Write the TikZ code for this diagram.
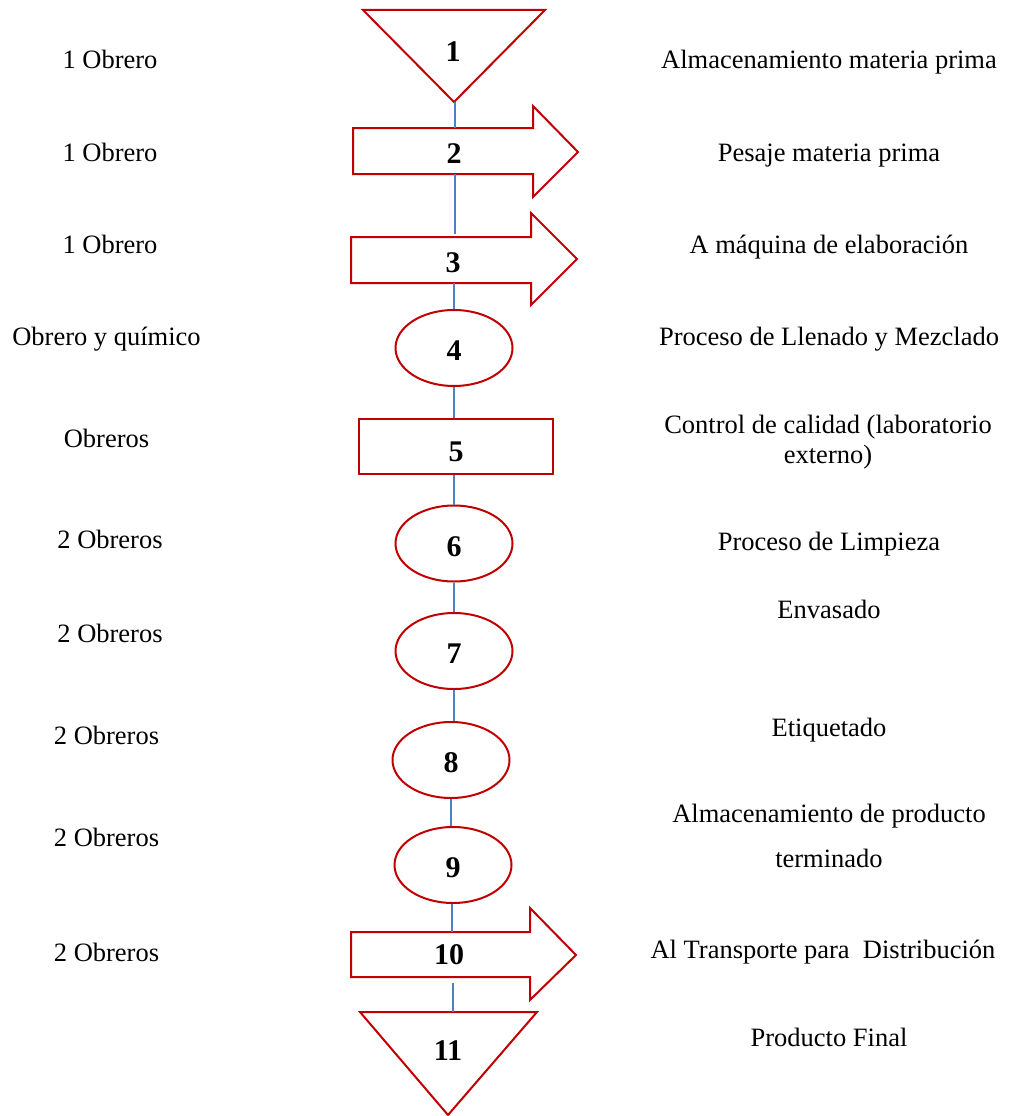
\documentclass[tikz,border=0pt]{standalone}
\usepackage{fontspec}
\setmainfont{Liberation Serif}
\usetikzlibrary{shapes.geometric}
\definecolor{flowred}{HTML}{C00000}
\definecolor{linkblue}{HTML}{4F81BD}
\begin{document}
\begin{tikzpicture}[x=1pt,y=-1pt,
  shapeline/.style={draw=flowred, line width=2pt, line join=miter},
  link/.style={draw=linkblue, line width=1.8pt},
  num/.style={font=\fontsize{30}{34}\selectfont\bfseries, inner sep=0pt},
  lbl/.style={font=\fontsize{26.5}{30}\selectfont, anchor=base, inner sep=0pt, align=center},
  oval/.style={shapeline, num, ellipse, minimum width=117pt, minimum height=76pt,
               text height=25pt, text depth=0pt},
  box/.style={shapeline, num, rectangle, minimum width=194pt, minimum height=55pt,
              text height=29pt, text depth=0pt}
]
\useasboundingbox (0,0) rectangle (1011,1116);

% 1: storage triangle
\draw[shapeline] (363,10) -- (545,10) -- (454,102) -- cycle;
\node[num, anchor=base] (s1) at (453,62) {1};
\coordinate (s1-out) at (455,102);

% 2: transport arrow
\draw[shapeline] (353,128) -- (533,128) -- (533,106) -- (578,152) -- (533,197)
  -- (533,174) -- (353,174) -- cycle;
\node[num, anchor=base] (s2) at (454,163) {2};
\coordinate (s2-in) at (455,128);
\coordinate (s2-out) at (455,174);

% 3: transport arrow
\draw[shapeline] (351,237) -- (531,237) -- (531,213) -- (577,259) -- (531,305)
  -- (531,283) -- (351,283) -- cycle;
\node[num, anchor=base] (s3) at (453,272) {3};
\coordinate (s3-in) at (455,234);
\coordinate (s3-out) at (454,283);

% 4..9: operations and inspection
\node[oval] (s4) at (454,348) {4};
\node[box] (s5) at (456,446.5) {5};
\node[oval] (s6) at (454,543.5) {6};
\node[oval] (s7) at (454,651) {7};
\node[oval] (s8) at (451,760) {8};
\node[oval] (s9) at (453,865) {9};

% 10: transport arrow
\draw[shapeline] (351,932) -- (530,932) -- (530,908) -- (576,955) -- (530,1000)
  -- (530,977) -- (351,977) -- cycle;
\node[num, anchor=base] (s10) at (449,964) {10};
\coordinate (s10-in) at (452,932);
\coordinate (s10-out) at (453,983);

% 11: final storage triangle
\draw[shapeline] (360,1012) -- (537,1012) -- (448,1115) -- cycle;
\node[num, anchor=base] (s11) at (448,1060) {11};
\coordinate (s11-in) at (453,1012);

% connectors
\draw[link] (s1-out) -- (s2-in);
\draw[link] (s2-out) -- (s3-in);
\draw[link] (s3-out) -- (s3-out |- s4.north);
\draw[link] (s4.south) -- (s4.south |- s5.north);
\draw[link] (s6.north |- s5.south) -- (s6.north);
\draw[link] (s6.south) -- (s6.south |- s7.north);
\draw[link] (s7.south) -- (s7.south |- s8.north);
\draw[link] (s8.south) -- (s8.south |- s9.north);
\draw[link] (s9.south -| s10-in) -- (s10-in);
\draw[link] (s10-out) -- (s11-in);

% workers
\node[lbl] (w1) at (110,69) {1 Obrero};
\node[lbl] (w2) at (110,161) {1 Obrero};
\node[lbl] (w3) at (110,253) {1 Obrero};
\node[lbl] (w4) at (106.5,345) {Obrero y químico};
\node[lbl] (w5) at (106.5,447) {Obreros};
\node[lbl] (w6) at (110,548) {2 Obreros};
\node[lbl] (w7) at (110,642) {2 Obreros};
\node[lbl] (w8) at (106.5,744) {2 Obreros};
\node[lbl] (w9) at (106.5,846) {2 Obreros};
\node[lbl] (w10) at (106.5,961) {2 Obreros};

% activities (multi-line labels sit on their last baseline)
\node[lbl] (d1) at (829,69) {Almacenamiento materia prima};
\node[lbl] (d2) at (829,161) {Pesaje materia prima};
\node[lbl] (d3) at (829,253) {A máquina de elaboración};
\node[lbl] (d4) at (829,345) {Proceso de Llenado y Mezclado};
\node[lbl] (d5) at (828,463) {Control de calidad (laboratorio\\externo)};
\node[lbl] (d6) at (829,550) {Proceso de Limpieza};
\node[lbl] (d7) at (829,618) {Envasado};
\node[lbl] (d8) at (829,736) {Etiquetado};
\node[lbl] (d9) at (829,867) {Almacenamiento de producto\\[15pt]terminado};
\node[lbl] (d10) at (823,958) {Al Transporte para\ \ Distribución};
\node[lbl] (d11) at (829,1046) {Producto Final};
\end{tikzpicture}
\end{document}
